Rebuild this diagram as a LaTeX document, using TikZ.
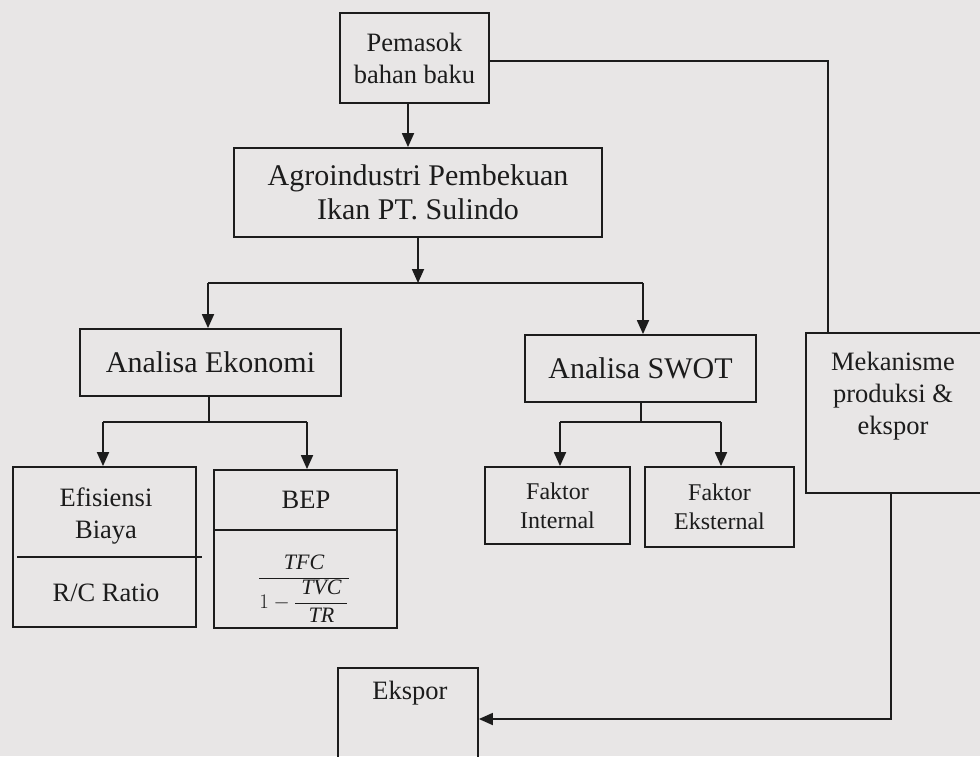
\documentclass[tikz,border=0pt]{standalone}
\usepackage{fontspec}
\setmainfont{Liberation Serif}
\usetikzlibrary{arrows.meta}
\definecolor{bg}{HTML}{E8E6E6}
\definecolor{ink}{HTML}{1C1C1C}
\begin{document}
\begin{tikzpicture}[x=1pt,y=-1pt,
  box/.style={draw=ink,line width=1.8pt,inner sep=0pt,align=center,text=ink},
  lbl/.style={inner sep=0pt,align=center,text=ink},
  ln/.style={draw=ink,line width=1.8pt},
  arr/.style={ln,-{Triangle[length=14pt,width=12pt]}},
  big/.style={font=\fontsize{30}{34}\selectfont},
  mid/.style={font=\fontsize{26.5}{32}\selectfont},
  sml/.style={font=\fontsize{24}{29}\selectfont}]
\fill[bg] (0,0) rectangle (980,756);
\useasboundingbox (0,0) rectangle (980,756);

% boxes
\node[box,mid,minimum width=149pt,minimum height=90pt] (pem) at (414.5,58) {Pemasok\\bahan baku};
\node[box,big,minimum width=368pt,minimum height=89pt] (agro) at (418,192.5) {Agroindustri Pembekuan\\Ikan PT. Sulindo};
\node[box,big,minimum width=261pt,minimum height=67pt] (ae) at (210.5,362.5) {Analisa Ekonomi};
\node[box,big,minimum width=231pt,minimum height=67pt] (swot) at (640.5,368.5) {Analisa SWOT};
\node[box,minimum width=179pt,minimum height=160pt] (mek) at (895.5,413) {};
\node[lbl,mid] (mektxt) at (893,396) {Mekanisme\\produksi \&\\ekspor};

\node[box,minimum width=183pt,minimum height=160pt] (efi) at (104.5,547) {};
\node[lbl,mid] (efitxt) at (106,516) {Efisiensi\\Biaya};
\node[lbl,mid] (rc) at (106,593) {R/C Ratio};
\coordinate (efil) at (17,557);
\coordinate (efir) at (202,557);
\draw[ln] (efil) -- (efir);

\node[box,minimum width=183pt,minimum height=158pt] (bep) at (305.5,549) {};
\node[lbl,mid] (beptxt) at (306,500) {BEP};
\coordinate (bepl) at (bep.west |- 0,530);
\coordinate (bepr) at (bep.east |- 0,530);
\draw[ln] (bepl) -- (bepr);
\node[lbl,font=\fontsize{22}{26}\selectfont] (form) at (304,589)
  {$\displaystyle\frac{\mbox{\itshape TFC}}{1-\displaystyle\frac{\;\mbox{\itshape TVC}\;}{\mbox{\itshape TR}}}$};

\node[box,sml,minimum width=145pt,minimum height=77pt] (fi) at (557.5,505.5) {Faktor\\Internal};
\node[box,sml,minimum width=149pt,minimum height=80pt] (fe) at (719.5,507) {Faktor\\Eksternal};

\node[box,minimum width=140pt,minimum height=94pt] (eks) at (408,715) {};
\node[lbl,mid] (ekstxt) at (410,693) {Ekspor};

% connectors
\coordinate (p1) at (408,103);
\draw[arr] (p1) -- (p1 |- agro.north);

\coordinate (c1) at (828,61);
\draw[ln] (pem.east |- c1) -- (c1) -- (c1 |- mek.north);

\coordinate (a1) at (418,283);
\coordinate (aL) at (208,283);
\coordinate (aR) at (643,283);
\draw[arr] (a1 |- agro.south) -- (a1);
\draw[ln] (aL) -- (aR);
\draw[arr] (aL) -- (aL |- ae.north);
\draw[arr] (aR) -- (aR |- swot.north);

\coordinate (e0) at (209,422);
\coordinate (eL) at (103,422);
\coordinate (eR) at (307,422);
\draw[ln] (e0 |- ae.south) -- (e0);
\draw[ln] (eL) -- (eR);
\draw[arr] (eL) -- (eL |- efi.north);
\draw[arr] (eR) -- (eR |- bep.north);

\coordinate (s0) at (641,422);
\coordinate (sL) at (560,422);
\coordinate (sR) at (721,422);
\draw[ln] (s0 |- swot.south) -- (s0);
\draw[ln] (sL) -- (sR);
\draw[arr] (sL) -- (sL |- fi.north);
\draw[arr] (sR) -- (sR |- fe.north);

\coordinate (m1) at (891,719);
\draw[arr] (m1 |- mek.south) -- (m1) -- (eks.east |- m1);
\end{tikzpicture}
\end{document}
